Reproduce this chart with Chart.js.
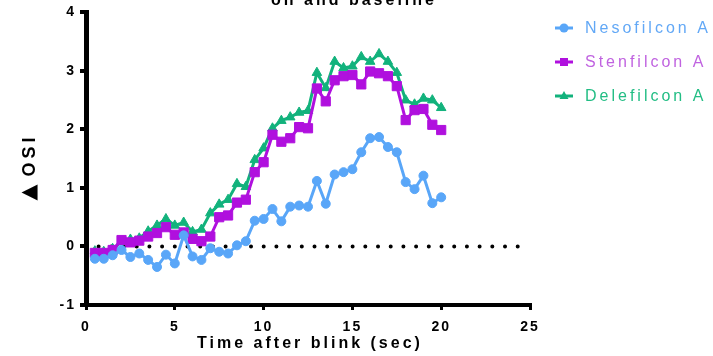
<!DOCTYPE html>
<html>
<head>
<meta charset="utf-8">
<script src="https://cdn.jsdelivr.net/npm/chart.js@4.4.0/dist/chart.umd.min.js"></script>
<style>
  body { margin: 0; background: #fff; }
  canvas { display: block; }
</style>
</head>
<body>
<canvas id="osiChart" width="713" height="356"></canvas>
<script>
// time after blink (sec)
const times = [0.5, 1, 1.5, 2, 2.5, 3, 3.5, 4, 4.5, 5, 5.5, 6, 6.5, 7, 7.5, 8, 8.5, 9, 9.5, 10,
               10.5, 11, 11.5, 12, 12.5, 13, 13.5, 14, 14.5, 15, 15.5, 16, 16.5, 17, 17.5, 18, 18.5, 19, 19.5, 20];

const nesofilcon = [-0.21, -0.21, -0.15, -0.06, -0.18, -0.12, -0.23, -0.35, -0.14, -0.29,
                    0.19, -0.17, -0.23, -0.03, -0.09, -0.12, 0.02, 0.09, 0.44, 0.47,
                    0.64, 0.43, 0.68, 0.70, 0.68, 1.12, 0.73, 1.23, 1.27, 1.32,
                    1.61, 1.85, 1.87, 1.70, 1.61, 1.10, 0.98, 1.21, 0.74, 0.84];

const stenfilcon = [-0.11, -0.11, -0.06, 0.11, 0.07, 0.10, 0.17, 0.23, 0.33, 0.20,
                    0.24, 0.13, 0.09, 0.17, 0.50, 0.53, 0.75, 0.80, 1.27, 1.44,
                    1.91, 1.79, 1.85, 2.04, 2.02, 2.70, 2.48, 2.84, 2.91, 2.93,
                    2.77, 2.99, 2.96, 2.91, 2.74, 2.16, 2.33, 2.35, 2.08, 1.99];

const delefilcon = [-0.08, -0.09, -0.04, 0.08, 0.12, 0.14, 0.26, 0.36, 0.47, 0.36,
                    0.41, 0.25, 0.29, 0.57, 0.72, 0.80, 1.07, 1.02, 1.48, 1.68,
                    2.02, 2.15, 2.21, 2.29, 2.32, 2.97, 2.71, 3.16, 3.05, 3.08,
                    3.24, 3.16, 3.29, 3.16, 2.97, 2.50, 2.43, 2.53, 2.50, 2.37];

const seriesNames = ['Nesofilcon A', 'Stenfilcon A', 'Delefilcon A'];
const baselineX = [0.71, 24.33];
const baselineY = [0, 0];

const titleText = 'on and baseline';
const xTitle = 'Time after blink (sec)';
const yTitleSymbol = '\u25B2';
const yTitle = 'OSI';

const blue = '#59a6f8';
const purple = '#b010de';
const green = '#12b27c';
const legendText = ['#62a8f6', '#c063e0', '#22bd84'];

const tickFont = { family: '"Liberation Sans", Arial, sans-serif', size: 14, weight: 'bold' };

function toPoints(xs, ys) {
    return xs.map((x, i) => ({ x: x, y: ys[i] }));
}

function marker(ctx, style, x, y, color) {
    ctx.fillStyle = color;
    ctx.beginPath();
    if (style === 'circle') {
        ctx.arc(x, y, 4.5, 0, Math.PI * 2);
    } else if (style === 'rect') {
        ctx.rect(x - 4, y - 4, 8, 8);
    } else {
        ctx.moveTo(x, y - 5);
        ctx.lineTo(x + 4.5, y + 3);
        ctx.lineTo(x - 4.5, y + 3);
        ctx.closePath();
    }
    ctx.fill();
}

const spacingPlugin = {
    id: 'spacing',
    beforeDraw(chart) {
        chart.ctx.letterSpacing = '2px';
    }
};

const textPlugin = {
    id: 'texts',
    afterDraw(chart) {
        const ctx = chart.ctx;
        ctx.save();
        ctx.fillStyle = '#000';
        ctx.textAlign = 'center';
        ctx.textBaseline = 'alphabetic';
        ctx.font = 'bold 16px "Liberation Sans", Arial, sans-serif';
        ctx.letterSpacing = '3px';
        ctx.fillText(titleText, 354, 5);

        ctx.textBaseline = 'middle';
        ctx.fillText(xTitle, 310, 344);

        // y title: symbol + OSI, rotated
        ctx.save();
        ctx.translate(30, 167);
        ctx.rotate(-Math.PI / 2);
        ctx.textAlign = 'left';
        ctx.textBaseline = 'middle';
        ctx.letterSpacing = '0px';
        ctx.font = 'bold 21px "DejaVu Sans", sans-serif';
        const symW = ctx.measureText(yTitleSymbol).width;
        ctx.font = 'bold 18px "Liberation Sans", Arial, sans-serif';
        ctx.letterSpacing = '4px';
        const txtW = ctx.measureText(yTitle).width;
        const gap = 8;
        const x0 = -(symW + gap + txtW) / 2;
        ctx.letterSpacing = '0px';
        ctx.font = 'bold 21px "DejaVu Sans", sans-serif';
        ctx.fillText(yTitleSymbol, x0, 0);
        ctx.font = 'bold 18px "Liberation Sans", Arial, sans-serif';
        ctx.letterSpacing = '4px';
        ctx.fillText(yTitle, x0 + symW + gap, 0);
        ctx.restore();

        // legend
        const styles = ['circle', 'rect', 'triangle'];
        const colors = [blue, purple, green];
        ctx.textAlign = 'left';
        ctx.font = '16px "Liberation Sans", Arial, sans-serif';
        ctx.letterSpacing = '3px';
        seriesNames.forEach((name, i) => {
            const y = 28 + 34 * i;
            ctx.strokeStyle = colors[i];
            ctx.lineWidth = 3;
            ctx.beginPath();
            ctx.moveTo(555, y);
            ctx.lineTo(573, y);
            ctx.stroke();
            marker(ctx, styles[i], 564, y, colors[i]);
            ctx.fillStyle = legendText[i];
            ctx.fillText(name, 585, y + 1);
        });
        ctx.restore();
    }
};

const osiChart = new Chart(document.getElementById('osiChart'), {
    type: 'line',
    data: {
        datasets: [
            {
                label: seriesNames[0],
                data: toPoints(times, nesofilcon),
                borderColor: blue,
                backgroundColor: blue,
                borderWidth: 3,
                pointStyle: 'circle',
                pointRadius: 4.5,
                pointBorderWidth: 1
            },
            {
                label: seriesNames[1],
                data: toPoints(times, stenfilcon),
                borderColor: purple,
                backgroundColor: purple,
                borderWidth: 3,
                pointStyle: 'rect',
                pointRadius: 6.5,
                pointBorderWidth: 1
            },
            {
                label: seriesNames[2],
                data: toPoints(times, delefilcon),
                borderColor: green,
                backgroundColor: green,
                borderWidth: 3,
                pointStyle: 'triangle',
                pointRadius: 5.5,
                pointBorderWidth: 1
            },
            {
                label: 'baseline',
                data: toPoints(baselineX, baselineY),
                borderColor: '#000',
                borderWidth: 4,
                borderDash: [0, 12.7],
                borderCapStyle: 'round',
                pointRadius: 0
            }
        ]
    },
    options: {
        responsive: false,
        animation: false,
        clip: false,
        layout: {
            padding: { top: 11, right: 183, left: 0, bottom: 0 }
        },
        scales: {
            x: {
                type: 'linear',
                min: 0,
                max: 25,
                ticks: { stepSize: 5, color: '#000', font: tickFont, padding: 9 },
                grid: { display: true, drawOnChartArea: false, color: '#000', lineWidth: 3, tickLength: 5 },
                border: { display: true, color: '#000', width: 4 },
                afterFit(scale) { scale.height = 51; }
            },
            y: {
                min: -1,
                max: 4,
                ticks: { stepSize: 1, color: '#000', font: tickFont, padding: 4 },
                grid: { display: true, drawOnChartArea: false, color: '#000', lineWidth: 4, tickLength: 6 },
                border: { display: true, color: '#000', width: 5 },
                afterFit(scale) { scale.width = 86; }
            }
        },
        plugins: {
            legend: { display: false },
            tooltip: { enabled: false }
        }
    },
    plugins: [spacingPlugin, textPlugin]
});
</script>
</body>
</html>
